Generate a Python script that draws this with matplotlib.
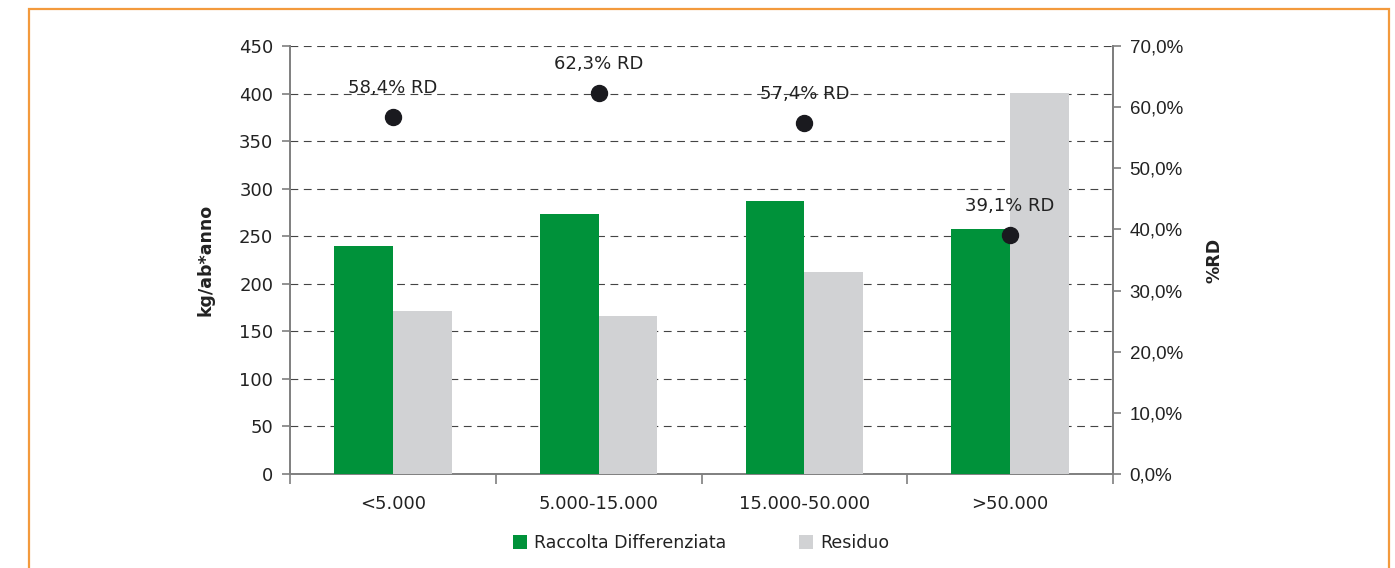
import matplotlib
matplotlib.use("Agg")
import matplotlib.pyplot as plt
from matplotlib.patches import Rectangle
from matplotlib.ticker import FixedLocator, FuncFormatter
import numpy as np

# Population classes and per-capita waste (kg/ab*anno)
categories = ["<5.000", "5.000-15.000", "15.000-50.000", ">50.000"]
raccolta_differenziata = [240, 273, 287, 258]
residuo = [171, 166, 212, 401]
# Separate collection rate (%RD)
pct_rd = [58.4, 62.3, 57.4, 39.1]

green = "#00923A"
grey = "#D1D2D4"
axis_grey = "#7F7F7F"
text_col = "#222222"

plt.rcParams["font.family"] = ["DejaVu Sans"]

fig = plt.figure(figsize=(13.95, 5.68), dpi=100)
W, H = 1395, 568

# Orange frame around the chart (open at the bottom)
frame = Rectangle((29 / W, -0.05), (1389 - 29) / W, (H - 9) / H + 0.05,
                  transform=fig.transFigure, fill=False,
                  edgecolor="#F39A3C", linewidth=1.6)
fig.patches.append(frame)

ax = fig.add_axes([290 / W, (H - 474) / H, (1113 - 290) / W, (474 - 46) / H])
x = np.arange(len(categories))
bw = 0.285
ax.bar(x - bw / 2, raccolta_differenziata, width=bw, color=green, zorder=3,
       label="Raccolta Differenziata")
ax.bar(x + bw / 2, residuo, width=bw, color=grey, zorder=3, label="Residuo")

ax.set_xlim(-0.5, len(categories) - 0.5)
ax.set_ylim(0, 450)
ax.set_yticks(np.arange(0, 451, 50))
ax.yaxis.grid(True, linestyle=(0, (7, 5)), color="#444444", linewidth=0.8, zorder=0)
ax.set_axisbelow(True)

ax.xaxis.set_major_locator(FixedLocator(np.arange(-0.5, len(categories), 1.0)))
ax.xaxis.set_major_formatter(FuncFormatter(lambda v, p: ""))
ax.xaxis.set_minor_locator(FixedLocator(x))
ax.set_xticklabels(categories, minor=True)
ax.tick_params(axis="x", which="minor", length=0, pad=15, labelsize=13,
               labelcolor=text_col)
ax.tick_params(axis="x", which="major", length=7, color=axis_grey, width=1.2)
ax.tick_params(axis="y", length=6, color=axis_grey, width=1.2, labelsize=13,
               labelcolor=text_col, pad=6)

ax.spines["top"].set_visible(False)
for s in ["left", "bottom", "right"]:
    ax.spines[s].set_color(axis_grey)
    ax.spines[s].set_linewidth(1.4)

ax.set_ylabel("kg/ab*anno", fontsize=12.5, fontweight="bold", labelpad=18,
              color=text_col)

ax2 = ax.twinx()
ax2.set_ylim(0, 70)
ax2.set_yticks(np.arange(0, 71, 10))
ax2.yaxis.set_major_formatter(FuncFormatter(lambda v, p: f"{v:.1f}%".replace(".", ",")))
ax2.tick_params(axis="y", length=6, color=axis_grey, width=1.2, labelsize=13.5,
                labelcolor=text_col, pad=6, labelfontfamily="Liberation Sans")
for s in ["top", "left", "bottom"]:
    ax2.spines[s].set_visible(False)
ax2.spines["right"].set_color(axis_grey)
ax2.spines["right"].set_linewidth(1.4)
ax2.set_ylabel("%RD", fontsize=12.5, fontweight="bold", labelpad=16, color=text_col)

ax2.plot(x, pct_rd, linestyle="none", marker="o", markersize=11.5,
         color="#1A1A1F", zorder=5)
for xi, v in zip(x, pct_rd):
    ax2.annotate(f"{v:.1f}% RD".replace(".", ","), (xi, v), xytext=(0, 21),
                 textcoords="offset points", ha="center", va="center",
                 fontsize=13, color=text_col)

# Legend below the plot
handles, labels = ax.get_legend_handles_labels()
fig.legend(handles, labels, loc="center", bbox_to_anchor=(701 / W, (H - 543) / H),
           ncol=2, frameon=False, fontsize=12.5, handlelength=0.8,
           handleheight=0.8, columnspacing=4.2, handletextpad=0.4,
           labelcolor=text_col)

fig.savefig("out.png", dpi=100)
